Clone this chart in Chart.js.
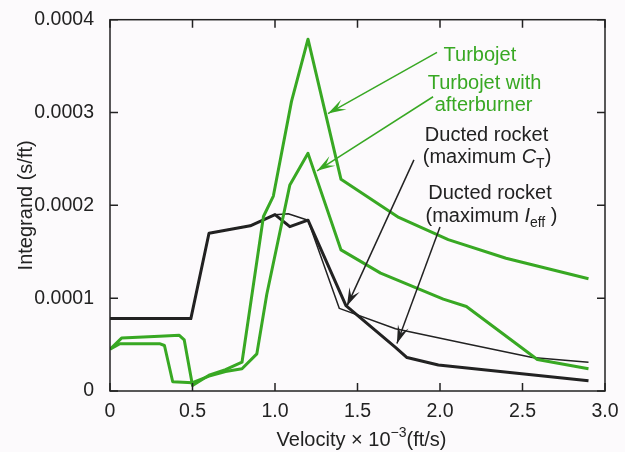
<!DOCTYPE html>
<html>
<head>
<meta charset="utf-8">
<script src="https://cdn.jsdelivr.net/npm/chart.js@4.4.1/dist/chart.umd.min.js"></script>
<style>
  html, body { margin: 0; padding: 0; background: #fcfafc; }
  #wrap { width: 625px; height: 452px; position: relative; }
</style>
</head>
<body>
<div id="wrap"><canvas id="integrandChart"></canvas></div>
<script>
// velocity in 1000 ft/s, integrand in s/ft
const turbojetX = [0, 0.07, 0.3, 0.42, 0.45, 0.5, 0.6, 0.7, 0.8, 0.93, 0.99, 1.1, 1.2, 1.4, 1.75, 2.05, 2.4, 2.9];
const turbojetY = [0.000045, 0.000057, 0.000059, 0.00006, 0.000055, 0.000006, 0.000017, 0.000023, 0.000031, 0.000188, 0.00021, 0.000312, 0.000379, 0.000228, 0.000187, 0.000163, 0.000143, 0.000121];

const afterburnerX = [0, 0.06, 0.3, 0.33, 0.38, 0.5, 0.6, 0.7, 0.8, 0.89, 0.95, 1.09, 1.2, 1.4, 1.64, 2.02, 2.16, 2.59, 2.9];
const afterburnerY = [0.000045, 0.000051, 0.000051, 0.000049, 0.00001, 0.000009, 0.000016, 0.000021, 0.000024, 0.00004, 0.000104, 0.000222, 0.000256, 0.000152, 0.000127, 0.000099, 0.000091, 0.000034, 0.000024];

const rocketCtX = [0, 0.49, 0.6, 0.85, 1.0, 1.08, 1.2, 1.39, 1.73, 2.16, 2.56, 2.9];
const rocketCtY = [0.000078, 0.000078, 0.00017, 0.000178, 0.00019, 0.000191, 0.000184, 0.000089, 0.000067, 0.000051, 0.000036, 0.000031];

const rocketIeffX = [0, 0.49, 0.6, 0.85, 1.0, 1.09, 1.2, 1.43, 1.73, 1.8, 1.99, 2.9];
const rocketIeffY = [0.000078, 0.000078, 0.00017, 0.000178, 0.00019, 0.000177, 0.000184, 0.000092, 0.000047, 0.000036, 0.000028, 0.000011];

const xTicks = [0, 0.5, 1.0, 1.5, 2.0, 2.5, 3.0];
const yTicks = [0, 0.0001, 0.0002, 0.0003, 0.0004];

const GREEN = '#38a823';
const INK = '#222222';
const FONT = '"Liberation Sans", Arial, sans-serif';

function toPoints(xs, ys) {
  return xs.map((x, i) => ({ x: x, y: ys[i] }));
}

// labels and arrows, placed in data units
const notes = [
  { x: 2.242, y: 0.0003553, color: GREEN, runs: [{ t: 'Turbojet' }] },
  { x: 2.27, y: 0.0003255, color: GREEN, runs: [{ t: 'Turbojet with' }] },
  { x: 2.264, y: 0.0003021, color: GREEN, runs: [{ t: 'afterburner' }] },
  { x: 2.282, y: 0.0002691, color: INK, runs: [{ t: 'Ducted rocket' }] },
  { x: 2.285, y: 0.0002457, color: INK, runs: [{ t: '(maximum ' }, { t: 'C', italic: true }, { t: 'T', sub: true }, { t: ')' }] },
  { x: 2.303, y: 0.0002064, color: INK, runs: [{ t: 'Ducted rocket' }] },
  { x: 2.312, y: 0.0001819, color: INK, runs: [{ t: '(maximum ' }, { t: 'I', italic: true }, { t: 'eff', sub: true }, { t: ' )' }] }
];
const arrows = [
  { from: [1.982, 0.0003649], to: [1.321, 0.0002989], color: GREEN },
  { from: [1.958, 0.000317], to: [1.255, 0.0002372], color: GREEN },
  { from: [1.842, 0.000249], to: [1.436, 0.0000915], color: INK },
  { from: [2.0, 0.0001766], to: [1.739, 0.0000511], color: INK }
];

function drawArrow(ctx, x1, y1, x2, y2, color) {
  const ang = Math.atan2(y2 - y1, x2 - x1);
  const len = 19, spread = 0.3;
  ctx.strokeStyle = color;
  ctx.fillStyle = color;
  ctx.lineWidth = 1.5;
  ctx.beginPath();
  ctx.moveTo(x1, y1);
  ctx.lineTo(x2, y2);
  ctx.stroke();
  ctx.beginPath();
  ctx.moveTo(x2, y2);
  ctx.lineTo(x2 - len * Math.cos(ang - spread), y2 - len * Math.sin(ang - spread));
  ctx.lineTo(x2 - len * 0.55 * Math.cos(ang), y2 - len * 0.55 * Math.sin(ang));
  ctx.lineTo(x2 - len * Math.cos(ang + spread), y2 - len * Math.sin(ang + spread));
  ctx.closePath();
  ctx.fill();
}

function runFont(r) {
  const size = r.sub || r.sup ? 14 : 20;
  return (r.italic ? 'italic ' : '') + size + 'px ' + FONT;
}

function drawRuns(ctx, runs, cx, baseY, color) {
  let total = 0;
  runs.forEach(r => { ctx.font = runFont(r); total += ctx.measureText(r.t).width; });
  let x = cx - total / 2;
  ctx.fillStyle = color;
  ctx.textAlign = 'left';
  ctx.textBaseline = 'alphabetic';
  runs.forEach(r => {
    ctx.font = runFont(r);
    let dy = 0;
    if (r.sub) dy = 5;
    if (r.sup) dy = -9;
    ctx.fillText(r.t, x, baseY + dy);
    x += ctx.measureText(r.t).width;
  });
}

const framePlugin = {
  id: 'frame',
  afterDatasetsDraw(chart) {
    const ctx = chart.ctx;
    const a = chart.chartArea;
    const xs = chart.scales.x, ys = chart.scales.y;
    ctx.save();
    // box around plot
    ctx.strokeStyle = INK;
    ctx.lineWidth = 1.5;
    ctx.strokeRect(a.left, a.top, a.right - a.left, a.bottom - a.top);
    // inward ticks on all four sides
    const tl = 8;
    ctx.beginPath();
    xTicks.forEach(v => {
      const px = xs.getPixelForValue(v);
      ctx.moveTo(px, a.bottom); ctx.lineTo(px, a.bottom - tl);
      ctx.moveTo(px, a.top); ctx.lineTo(px, a.top + tl);
    });
    yTicks.forEach(v => {
      const py = ys.getPixelForValue(v);
      ctx.moveTo(a.left, py); ctx.lineTo(a.left + tl, py);
      ctx.moveTo(a.right, py); ctx.lineTo(a.right - tl, py);
    });
    ctx.stroke();

    arrows.forEach(ar => {
      drawArrow(ctx,
        xs.getPixelForValue(ar.from[0]), ys.getPixelForValue(ar.from[1]),
        xs.getPixelForValue(ar.to[0]), ys.getPixelForValue(ar.to[1]), ar.color);
    });
    notes.forEach(n => {
      drawRuns(ctx, n.runs, xs.getPixelForValue(n.x), ys.getPixelForValue(n.y), n.color);
    });

    // x axis title with superscript
    drawRuns(ctx, [{ t: 'Velocity \u00d7 10' }, { t: '\u22123', sup: true }, { t: '(ft/s)' }],
      (a.left + a.right) / 2 + 4, 446, INK);
    ctx.restore();
  }
};

new Chart(document.getElementById('integrandChart'), {
  type: 'line',
  data: {
    datasets: [
      { label: 'Turbojet', data: toPoints(turbojetX, turbojetY), borderColor: GREEN, borderWidth: 3 },
      { label: 'Turbojet with afterburner', data: toPoints(afterburnerX, afterburnerY), borderColor: GREEN, borderWidth: 3 },
      { label: 'Ducted rocket (maximum CT)', data: toPoints(rocketCtX, rocketCtY), borderColor: INK, borderWidth: 1.5 },
      { label: 'Ducted rocket (maximum Ieff)', data: toPoints(rocketIeffX, rocketIeffY), borderColor: INK, borderWidth: 3 }
    ]
  },
  options: {
    responsive: true,
    maintainAspectRatio: false,
    animation: false,
    elements: {
      point: { radius: 0 },
      line: { tension: 0, borderJoinStyle: 'round', fill: false }
    },
    layout: { padding: { left: 0, right: 20, top: 15, bottom: 0 } },
    plugins: {
      legend: { display: false },
      tooltip: { enabled: false }
    },
    scales: {
      x: {
        type: 'linear',
        min: 0,
        max: 3,
        afterFit: s => { s.height = 61; },
        afterBuildTicks: s => { s.ticks = xTicks.map(v => ({ value: v })); },
        grid: { display: false },
        border: { display: false },
        ticks: {
          padding: 1,
          color: INK,
          font: { family: FONT, size: 19.5 },
          maxRotation: 0,
          autoSkip: false,
          callback: v => v === 0 ? '0' : v.toFixed(1)
        },
        title: { display: false }
      },
      y: {
        type: 'linear',
        min: 0,
        max: 0.0004,
        afterFit: s => { s.width = 110; },
        afterBuildTicks: s => { s.ticks = yTicks.map(v => ({ value: v })); },
        grid: { display: false },
        border: { display: false },
        ticks: {
          padding: 8,
          color: INK,
          font: { family: FONT, size: 19.5 },
          callback: v => v === 0 ? '0' : v.toFixed(4)
        },
        title: {
          display: true,
          text: 'Integrand (s/ft)',
          color: INK,
          font: { family: FONT, size: 20 },
          padding: { top: 14, bottom: 0 }
        }
      }
    }
  },
  plugins: [framePlugin]
});
</script>
</body>
</html>
